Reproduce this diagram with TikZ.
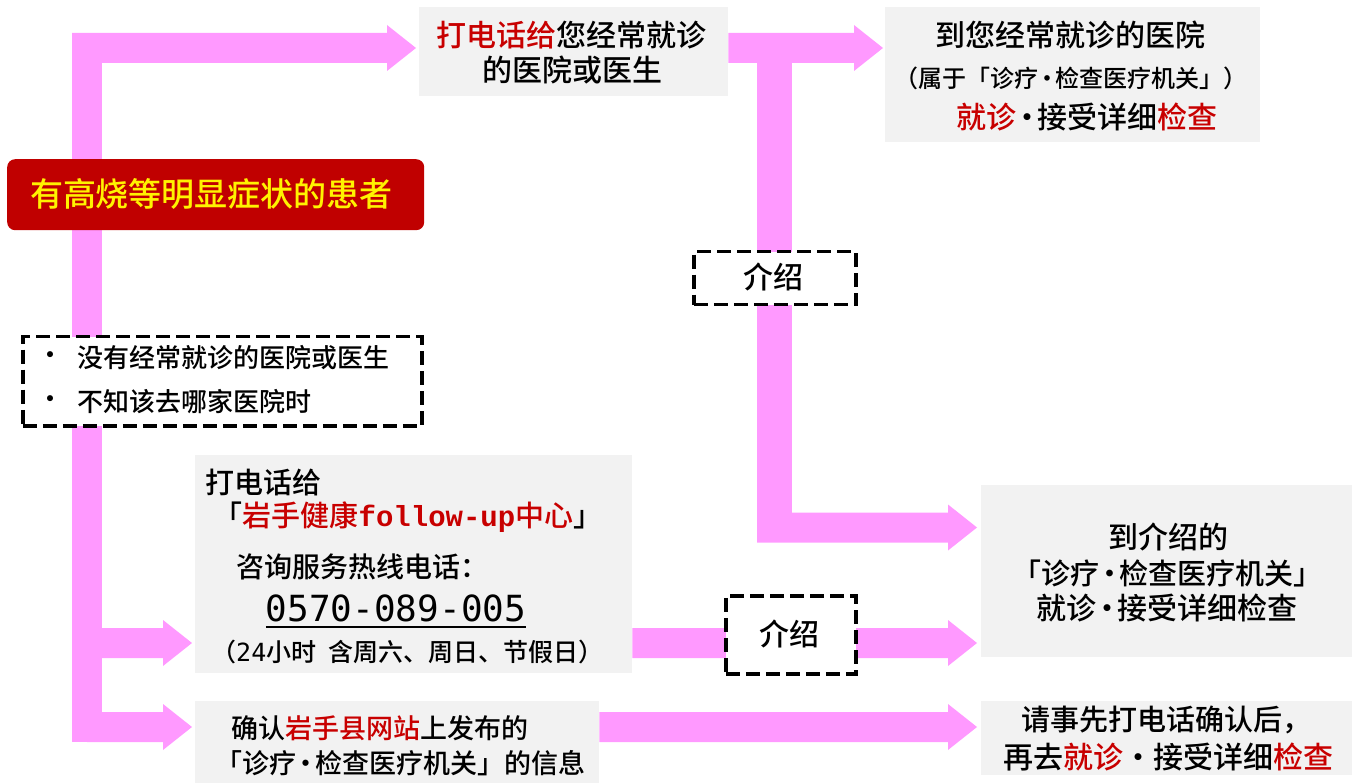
\documentclass[tikz,border=0pt]{standalone}
\usepackage{fontspec}
\setmainfont{Noto Sans CJK SC}[UprightFont={* Medium}]
\newfontfamily\lmono{Liberation Mono}
\newfontfamily\dvmono{DejaVu Sans Mono}
\usetikzlibrary{calc}
\definecolor{pinkA}{RGB}{255,153,255}
\definecolor{boxgray}{RGB}{242,242,242}
\definecolor{darkred}{RGB}{192,0,0}
\definecolor{txtred}{RGB}{200,0,0}
\newcommand{\rd}[1]{\textcolor{txtred}{#1}}
\newcommand{\md}{\kern-.15em・\kern-.15em}
\newcommand{\harrow}[2]{%
  \fill[pinkA] ($(#1 |- #2)+(0,-15)$) -- ($(#2)+(-29,-15)$) -- ($(#2)+(-29,-23)$) -- (#2)
   -- ($(#2)+(-29,23)$) -- ($(#2)+(-29,15)$) -- ($(#1 |- #2)+(0,15)$) -- cycle;}
\begin{document}
\begin{tikzpicture}[x=1pt,y=-1pt,
  graybox/.style={fill=boxgray, draw=none, inner sep=0pt, anchor=north west},
  dashbox/.style={fill=white, draw=black, line width=3.5pt, dash pattern=on 14pt off 6pt, inner sep=0pt, anchor=north west},
  txt/.style={inner sep=0pt, font=\fontsize{#1}{#1}\selectfont},
]
\useasboundingbox (0,0) rectangle (1352,783);

% ---------- coordinates for connectors ----------
\coordinate (trunkTop) at (72,33);
\coordinate (trunkMid) at (87,643);
\coordinate (tipTop) at (416,48);
\coordinate (tipPhone) at (192,643);
\coordinate (tipWeb) at (192,727);
\coordinate (tipTR) at (883,48);
\coordinate (vTop) at (757,48);
\coordinate (vBot) at (792,542);
\coordinate (tipMR) at (977,527.5);
\coordinate (tipPhoneR) at (977,643);
\coordinate (tipWebR) at (977,727);

% ---------- pink block arrows ----------
\fill[pinkA] (72,742) rectangle (102,33);
\harrow{trunkTop}{tipTop}
\harrow{trunkMid}{tipPhone}
\harrow{trunkMid}{tipWeb}
\fill[pinkA] (vTop) rectangle (vBot);
\harrow{vTop}{tipMR}

% ---------- boxes ----------
\node[graybox, minimum width=309pt, minimum height=89pt] (topbox) at (419,7) {};
\harrow{topbox.east}{tipTR}
\node[graybox, minimum width=437pt, minimum height=218pt] (phonebox) at (195,455) {};
\node[graybox, minimum width=404pt, minimum height=82pt] (webbox) at (195,701) {};
\harrow{phonebox.east}{tipPhoneR}
\harrow{webbox.east}{tipWebR}
\node[graybox, minimum width=375pt, minimum height=135pt] (trbox) at (885,7) {};
\node[graybox, minimum width=371pt, minimum height=172pt] (mrbox) at (981,485) {};
\node[graybox, minimum width=371pt, minimum height=74pt] (brbox) at (981,701) {};

\node[fill=darkred, rounded corners=8pt, minimum width=417pt, minimum height=71pt,
      inner sep=0pt, anchor=north west] (patient) at (7,159) {};
\node[dashbox, minimum width=399pt, minimum height=89pt] (nohosp) at (21,335) {};
\node[dashbox, minimum width=162pt, minimum height=53pt] (intro1) at (692,250) {};
\node[dashbox, minimum width=130pt, minimum height=78pt] (intro2) at (724,594) {};

% ---------- texts ----------
\node[txt=33, text=yellow] (tpat) at (211.5,194) {有高烧等明显症状的患者};

\node[txt=30] (t1a) at (571.5,35) {\rd{打电话给}您经常就诊};
\node[txt=30] (t1b) at (572.5,70) {的医院或医生};

\node[txt=30] (t2a) at (1070,35) {到您经常就诊的医院};
\node[txt=24] (t2b) at (1071,78) {（属于「诊疗\md 检查医疗机关」）};
\node[txt=30] (t2c) at (1087,117) {\rd{就诊}\md 接受详细\rd{检查}};

\node[txt=26] (b1) at (50,358) {・};
\node[txt=26, anchor=west] (n1) at (77,358) {没有经常就诊的医院或医生};
\node[txt=26] (b2) at (50,402) {・};
\node[txt=26, anchor=west] (n2) at (77,402) {不知该去哪家医院时};

\node[txt=30] (i1) at (773,277) {介绍};
\node[txt=30] (i2) at (789,634) {介绍};

\node[txt=29, anchor=west] (p1) at (205,482) {打电话给};
\node[txt=29] (p2) at (408,517) {「\rd{岩手健康{\lmono\bfseries follow-up}中心}」};
\node[txt=28] (p3) at (362.5,567) {咨询服务热线电话：};
\node[txt=36, font=\fontsize{36}{36}\dvmono] (p4) at (396,608) {0570-089-005};
\draw[line width=2.5pt] ($(p4.south west)+(0,5)$) -- ($(p4.south east)+(0,5)$);
\node[txt=25] (p5) at (407.5,652) {（{\dvmono 24}小时\hspace{0.5em}含周六、周日、节假日）};

\node[txt=27] (w1) at (380,728) {确认\rd{岩手县网站}上发布的};
\node[txt=27] (w2) at (400.5,763) {「诊疗\md 检查医疗机关」的信息};

\node[txt=30] (m1) at (1168.5,537) {到介绍的};
\node[txt=29] (m2) at (1167.5,573) {「诊疗\md 检查医疗机关」};
\node[txt=30] (m3) at (1167,608) {就诊\md 接受详细检查};

\node[txt=29] (r1) at (1166,720) {请事先打电话确认后，};
\node[txt=30] (r2) at (1168,757) {再去\rd{就诊}・接受详细\rd{检查}};
\end{tikzpicture}
\end{document}
